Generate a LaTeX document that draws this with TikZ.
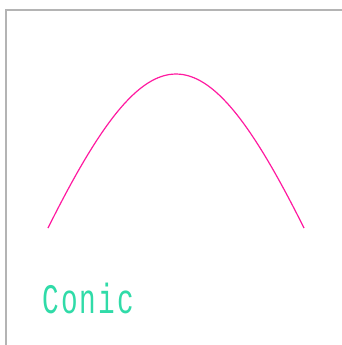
\documentclass[tikz,border=0pt]{standalone}
\usepackage{fontspec}
\usepackage{graphicx}
\usetikzlibrary{positioning}
\newfontfamily\labelfont[LetterSpace=8]{Liberation Mono}
\definecolor{framegray}{HTML}{B4B4B4}
\definecolor{conicpink}{HTML}{FF1AA0}
\definecolor{labelgreen}{HTML}{30DBA8}

\begin{document}
\begin{tikzpicture}[
  x=1pt, y=-1pt,
  frame/.style={draw=framegray, line width=1.5pt},
  conic/.style={draw=conicpink, line width=1.2pt},
  lbl/.style={text=labelgreen, inner sep=0pt, anchor=base west, font=\labelfont\fontsize{42}{42}\selectfont},
]
  \useasboundingbox (0,0) rectangle (342,345);

  % Frame
  \draw[frame] (342,10) -- (6,10) -- (6,345);

  % Conic arc (rho = 0.6)
  \coordinate (p0) at (48,228);
  \coordinate (p2) at (304,228);
  \draw[conic] (p0) .. controls (150.4,22.7) and (201.6,22.7) .. (p2);

  % Label
  \node[lbl] (title) at (42,313) {\scalebox{0.66}[1]{Conic}};
\end{tikzpicture}
\end{document}
